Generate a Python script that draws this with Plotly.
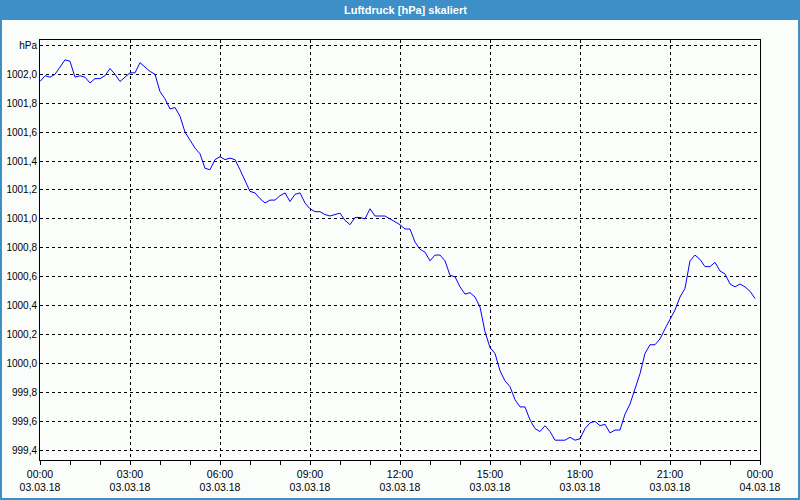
import pandas as pd
import plotly.graph_objects as go

# ---- data ----
start_time = "2018-03-03 00:00"
step_minutes = 10
pressure_hpa = [
    1001.95, 1001.99, 1001.98, 1002.00, 1002.05, 1002.10, 1002.09, 1001.98, 1001.99, 1001.98,
    1001.94, 1001.97, 1001.97, 1001.99, 1002.04, 1002.00, 1001.95, 1001.98, 1002.01, 1002.01,
    1002.08, 1002.05, 1002.02, 1002.00, 1001.88, 1001.83, 1001.76, 1001.77, 1001.71, 1001.60,
    1001.54, 1001.49, 1001.45, 1001.35, 1001.34, 1001.41, 1001.43, 1001.41, 1001.42, 1001.41,
    1001.34, 1001.26, 1001.19, 1001.18, 1001.14, 1001.11, 1001.13, 1001.13, 1001.16, 1001.18,
    1001.12, 1001.17, 1001.18, 1001.11, 1001.07, 1001.05, 1001.05, 1001.03, 1001.02, 1001.03,
    1001.04, 1000.99, 1000.96, 1001.01, 1001.01, 1001.00, 1001.07, 1001.02, 1001.02, 1001.02,
    1001.00, 1000.98, 1000.96, 1000.93, 1000.93, 1000.84, 1000.79, 1000.77, 1000.71, 1000.75,
    1000.75, 1000.71, 1000.61, 1000.60, 1000.53, 1000.48, 1000.49, 1000.46, 1000.39, 1000.22,
    1000.11, 1000.07, 999.95, 999.88, 999.84, 999.75, 999.70, 999.70, 999.61, 999.55,
    999.53, 999.57, 999.53, 999.47, 999.47, 999.47, 999.49, 999.47, 999.48, 999.55,
    999.59, 999.60, 999.57, 999.58, 999.52, 999.54, 999.54, 999.65, 999.72, 999.82,
    999.93, 1000.07, 1000.13, 1000.13, 1000.17, 1000.24, 1000.30, 1000.37, 1000.46, 1000.52,
    1000.71, 1000.75, 1000.72, 1000.67, 1000.67, 1000.70, 1000.64, 1000.62, 1000.55, 1000.53,
    1000.55, 1000.53, 1000.50, 1000.45,
]
y_tick_vals = [999.4, 999.6, 999.8, 1000.0, 1000.2, 1000.4, 1000.6, 1000.8,
               1001.0, 1001.2, 1001.4, 1001.6, 1001.8, 1002.0, 1002.2]
y_tick_text = ["999,4", "999,6", "999,8", "1000,0", "1000,2", "1000,4", "1000,6", "1000,8",
               "1001,0", "1001,2", "1001,4", "1001,6", "1001,8", "1002,0", "hPa"]
x_tick_vals = ["2018-03-03 00:00", "2018-03-03 03:00", "2018-03-03 06:00", "2018-03-03 09:00",
               "2018-03-03 12:00", "2018-03-03 15:00", "2018-03-03 18:00", "2018-03-03 21:00",
               "2018-03-04 00:00"]
x_tick_text = ["00:00<br>03.03.18", "03:00<br>03.03.18", "06:00<br>03.03.18", "09:00<br>03.03.18",
               "12:00<br>03.03.18", "15:00<br>03.03.18", "18:00<br>03.03.18", "21:00<br>03.03.18",
               "00:00<br>04.03.18"]
title_text = "Luftdruck [hPa] skaliert"

times = pd.date_range(start_time, periods=len(pressure_hpa), freq=f"{step_minutes}min")

W, H = 800, 500
ML, MR, MT, MB = 40, 40, 40, 40
PW, PH = W - ML - MR, H - MT - MB

def px_x(x):
    return (x - ML) / PW

def px_y(y):
    return (H - MB - y) / PH

BLUE = "#3c8fc7"
BG = "#fbfdfb"
FONT = "Liberation Sans"

fig = go.Figure()
fig.add_trace(go.Scatter(x=times, y=pressure_hpa, mode="lines",
                         line=dict(color="#0000ff", width=1), hoverinfo="skip",
                         showlegend=False))

fig.update_layout(
    width=W, height=H,
    margin=dict(l=ML, r=MR, t=MT, b=MB, autoexpand=False),
    paper_bgcolor=BG, plot_bgcolor=BG,
    font=dict(family=FONT, size=10, color="#000000"),
    showlegend=False,
    xaxis=dict(
        type="date", automargin=False,
        range=["2018-03-03 00:00", "2018-03-04 00:00"],
        tickvals=x_tick_vals, ticktext=x_tick_text,
        ticks="outside", ticklen=4, tickcolor="#000000", tickwidth=1,
        showgrid=True, gridcolor="#000000", gridwidth=1, griddash="3px,3px",
        showline=True, linecolor="#000000", linewidth=1, mirror=True,
        zeroline=False,
        minor=dict(dtick=3600000, ticks="outside", ticklen=4, tickcolor="#000000",
                   showgrid=False),
        tickfont=dict(family=FONT, size=10.5, color="#000000"),
        fixedrange=True,
    ),
    yaxis=dict(
        automargin=False,
        range=[999.333, 1002.237],
        tickvals=y_tick_vals, ticktext=y_tick_text,
        ticks="", showgrid=True, gridcolor="#000000", gridwidth=1, griddash="3px,3px",
        showline=True, linecolor="#000000", linewidth=1, mirror=True,
        zeroline=False,
        tickfont=dict(family=FONT, size=10, color="#000000"),
        fixedrange=True,
    ),
    shapes=[
        dict(type="rect", xref="paper", yref="paper",
             x0=px_x(0), x1=px_x(W), y0=px_y(20), y1=px_y(0),
             fillcolor=BLUE, line=dict(width=0), layer="above"),
        dict(type="rect", xref="paper", yref="paper",
             x0=px_x(1), x1=px_x(W - 1), y0=px_y(H - 1), y1=px_y(1),
             fillcolor="rgba(0,0,0,0)", line=dict(color=BLUE, width=2), layer="above"),
    ],
    annotations=[
        dict(text=title_text, xref="paper", yref="paper",
             x=px_x(405), y=px_y(10), xanchor="center", yanchor="middle",
             showarrow=False,
             font=dict(family=FONT, size=11, color="#ffffff", weight="bold")),
    ],
)

fig.write_html("out.html", config=dict(displayModeBar=False, staticPlot=True))
